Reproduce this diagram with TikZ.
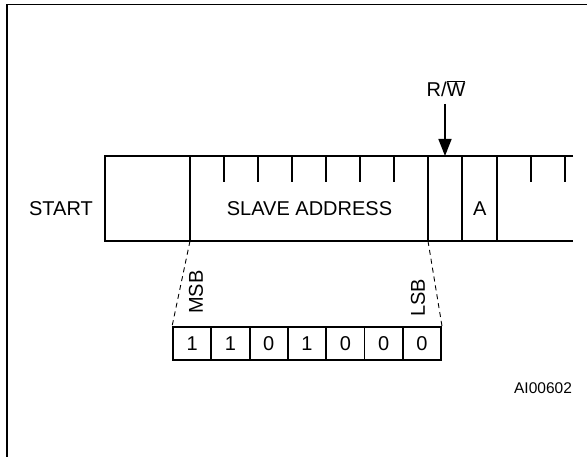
\documentclass[tikz,border=0pt]{standalone}
\usepackage{fontspec}
\setmainfont{Liberation Sans}
\usetikzlibrary{arrows.meta}
\begin{document}
\begin{tikzpicture}[x=1pt,y=-1pt,
  thick line/.style={line width=1.8pt},
  lbl/.style={inner sep=0pt,font=\fontsize{20}{23}\selectfont},
  bitbox/.style={draw,line width=1.8pt,minimum width=38.3pt,minimum height=33pt,inner sep=0pt,font=\fontsize{20}{23}\selectfont},
  guide/.style={dashed,line width=0.9pt,dash pattern=on 5pt off 4pt}]
\useasboundingbox (0,0) rectangle (587,457);
% frame
\draw[line width=1.8pt] (7,457) -- (7,4.5) -- (587,4.5);
% main field outline
\draw[thick line] (573,156) -- (105,156) -- (105,241) -- (573,241);
\draw[thick line] (190,156) -- (190,241);
\draw[thick line] (428,156) -- (428,241);
\draw[thick line] (462,156) -- (462,241);
\draw[thick line] (497,156) -- (497,241);
\foreach \x in {224,258,292,326,360,394,531,565}
  \draw[thick line] (\x,156) -- (\x,182);
% labels in field
\node[lbl] (start) at (61,209) {START};
\node[lbl] (slave) at (309.5,209) {SLAVE ADDRESS};
\node[lbl] (ack) at (479.7,209) {A};
% R/W arrow
\node[lbl] (rw) at (446,88.3) {R/$\overline{\hbox{W}}$};
\coordinate (rwtip) at (445,156);
\coordinate (rwtail) at (445,104);
\draw[line width=1.5pt,-{Triangle[length=17pt,width=13pt]}] (rwtail) -- (rwtip);
% bit boxes
\foreach [count=\i] \v in {1,1,0,1,0,0,0}
  \node[bitbox] (b\i) at ({173+38.3*(\i-0.5)},343.5) {\v};
% guides
\coordinate (msbtop) at (190,241);
\coordinate (lsbtop) at (428,241);
\draw[guide] (msbtop) -- (b1.north west);
\draw[guide] (lsbtop) -- (b7.north east);
\node[lbl,rotate=90] (msb) at (196,292) {MSB};
\node[lbl,rotate=90] (lsb) at (418,298) {LSB};
% figure id
\node[inner sep=0pt,font=\fontsize{15.5}{18}\selectfont] (id) at (543,388) {AI00602};
\end{tikzpicture}
\end{document}
